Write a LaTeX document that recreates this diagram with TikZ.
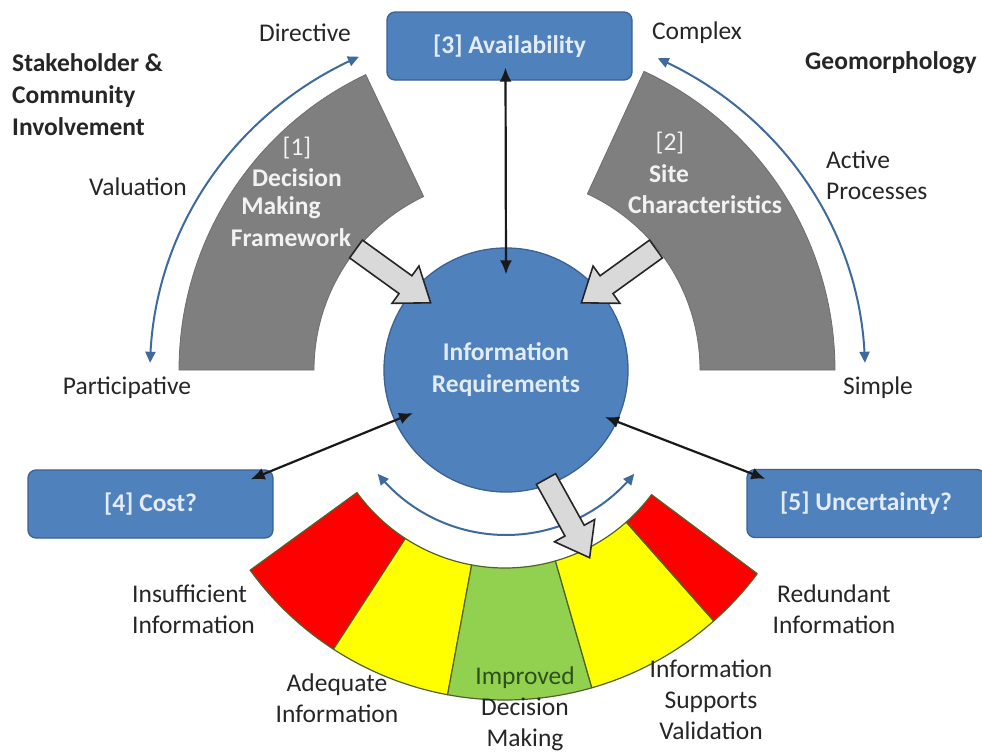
\documentclass[tikz,border=0pt]{standalone}
\usepackage{fontspec}
\setmainfont{Carlito}
\usetikzlibrary{arrows.meta,calc}
\definecolor{boxblue}{HTML}{4F81BD}
\definecolor{boxedge}{HTML}{3A6296}
\definecolor{boxtxt}{HTML}{E3ECF6}
\definecolor{secgray}{HTML}{7F7F7F}
\definecolor{secedge}{HTML}{6E6E6E}
\definecolor{graytxt}{HTML}{F2F2F2}
\definecolor{txtdark}{HTML}{262626}
\definecolor{arcblue}{HTML}{3E6A9E}
\definecolor{arrfill}{HTML}{D9D9D9}
\definecolor{fanred}{HTML}{FF0000}
\definecolor{fanyellow}{HTML}{FFFF00}
\definecolor{fangreen}{HTML}{92D050}
\definecolor{fanedge}{HTML}{4F6228}
\definecolor{darkgreen}{HTML}{2E4F1C}
\newcommand{\blockarr}[4]{%
  \begin{scope}[shift={(#1,#2)},rotate=#3]
    \filldraw[blockarrow] (0,-11) -- ({#4-31},-11) -- ({#4-31},-23) -- (#4,0)
      -- ({#4-31},23) -- ({#4-31},11) -- (0,11) -- cycle;
  \end{scope}}
\newcommand{\fanseg}[3]{%
  \filldraw[fanline, fill=#3] plot[domain=#1:#2,samples=40] ({505+315*cos(\x)},{385+315*sin(\x)})
    -- plot[domain=#2:#1,samples=40] ({505+183*cos(\x)},{385+183*sin(\x)}) -- cycle;}
\begin{document}
\begin{tikzpicture}[x=1pt,y=-1pt,
  lbl/.style={font=\fontsize{25.5}{31}\selectfont, text=txtdark, inner sep=0pt, align=center},
  blbl/.style={font=\fontsize{25.5}{32}\selectfont\bfseries, text=txtdark, inner sep=0pt, align=left},
  glbl/.style={font=\fontsize{25.5}{31}\selectfont\bfseries, text=graytxt, inner sep=0pt},
  gnum/.style={font=\fontsize{25.5}{31}\selectfont, text=graytxt, inner sep=0pt},
  bluebox/.style={draw=boxedge, fill=boxblue, line width=1.3pt, rounded corners=8pt,
    minimum height=68pt, text=boxtxt, font=\fontsize{25.5}{31}\selectfont\bfseries},
  sector/.style={fill=secgray, draw=secedge, line width=0.8pt},
  bluearc/.style={draw=arcblue, line width=2pt, {Triangle[length=11pt,width=10pt]}-{Triangle[length=11pt,width=10pt]}},
  dbl/.style={draw=black!90, line width=2.2pt, {Latex[length=14pt,width=12pt]}-{Latex[length=14pt,width=12pt]}},
  blockarrow/.style={fill=arrfill, draw=black!85, line width=1.6pt, line join=miter},
  fanline/.style={draw=fanedge, line width=1.2pt, line join=round}]
\useasboundingbox (0,0) rectangle (982,755);
\clip (0,0) rectangle (982,755);
\fill[white] (0,0) rectangle (982,755);

% gray sectors
\filldraw[sector] plot[domain=180:244.6,samples=60] ({506+327*cos(\x)},{370+327*sin(\x)})
  -- plot[domain=244.6:180,samples=60] ({506+192*cos(\x)},{370+192*sin(\x)}) -- cycle;
\filldraw[sector] plot[domain=-65.2:0,samples=60] ({506+329*cos(\x)},{370+329*sin(\x)})
  -- plot[domain=0:-65.2,samples=60] ({506+194*cos(\x)},{370+194*sin(\x)}) -- cycle;

% outer blue arcs
\draw[bluearc] plot[domain=181.2:245.6,samples=60] ({506+356*cos(\x)},{370+344*sin(\x)});
\draw[bluearc] plot[domain=-65:-1.2,samples=60] ({506+359*cos(\x)},{370+344*sin(\x)});

% fan
\fanseg{144}{123}{fanred}
\fanseg{123}{100.5}{fanyellow}
\fanseg{100.5}{74}{fangreen}
\fanseg{74}{48.5}{fanyellow}
\fanseg{48.5}{36.8}{fanred}

% lower blue arc
\draw[bluearc] plot[domain=141:39,samples=60] ({506+165*cos(\x)},{370+165*sin(\x)});

% central circle
\node[circle, draw=boxedge, fill=boxblue, line width=1.3pt, minimum size=244pt, inner sep=0pt,
  text=boxtxt, align=center, font=\fontsize{25.5}{32}\selectfont\bfseries] (ir) at (506,370)
  {Information\\Requirements};

% boxes
\node[bluebox, minimum width=245pt] (avail) at (509.5,46) {[3] Availability};
\node[bluebox, minimum width=245pt] (cost) at (150.5,504) {[4] Cost?};
\node[bluebox, minimum width=238pt] (unc) at (866,503.5) {[5] Uncertainty?};

% black double arrows
\draw[dbl] ($(avail.south)+(-4,-13)$) -- ($(ir.north)+(0,27)$);
\draw[dbl] ($(ir.center)+(-93,43)$) -- ($(cost.north east)+(-23,10)$);
\draw[dbl] ($(ir.center)+(99,47)$) -- ($(unc.north west)+(19,10)$);

% gray block arrows
\blockarr{356}{249}{-35.8}{92}
\blockarr{656}{249}{-144.2}{92}
\blockarr{546}{479}{-61}{90}

% labels in gray sectors
\node[gnum] (n1) at (297,148) {[1]};
\node[glbl] (d1) at (297,178) {Decision};
\node[glbl] (m1) at (281,208) {Making};
\node[glbl] (f1) at (291,238) {Framework};
\node[gnum] (n2) at (670,143) {[2]};
\node[glbl] (s2) at (669,174) {Site};
\node[glbl] (c2) at (705,205) {Characteristics};

% outer labels
\node[lbl] (directive) at (305,33) {Directive};
\node[blbl, anchor=west] (stake) at (12,95) {Stakeholder \&\\Community\\Involvement};
\node[lbl] (valuation) at (138,187) {Valuation};
\node[lbl] (particip) at (127,388) {Participative};
\node[lbl] (complex) at (697,33) {Complex};
\node[blbl] (geo) at (891,63) {Geomorphology};
\node[lbl, align=left, anchor=west] (active) at (826,175) {Active\\Processes};
\node[lbl] (simple) at (878,388) {Simple};

% fan labels
\node[lbl, align=left, anchor=west] (insuf) at (132,609) {Insufficient\\Information};
\node[lbl] (adeq) at (337,698) {Adequate\\Information};
\node[lbl] (impr) at (525,678) {\textcolor{darkgreen}{Improved}};
\node[lbl] (idm) at (525,724) {Decision\\Making};
\node[lbl] (isv) at (711,700) {Information\\Supports\\Validation};
\node[lbl] (redun) at (834,609) {Redundant\\Information};
\end{tikzpicture}
\end{document}
